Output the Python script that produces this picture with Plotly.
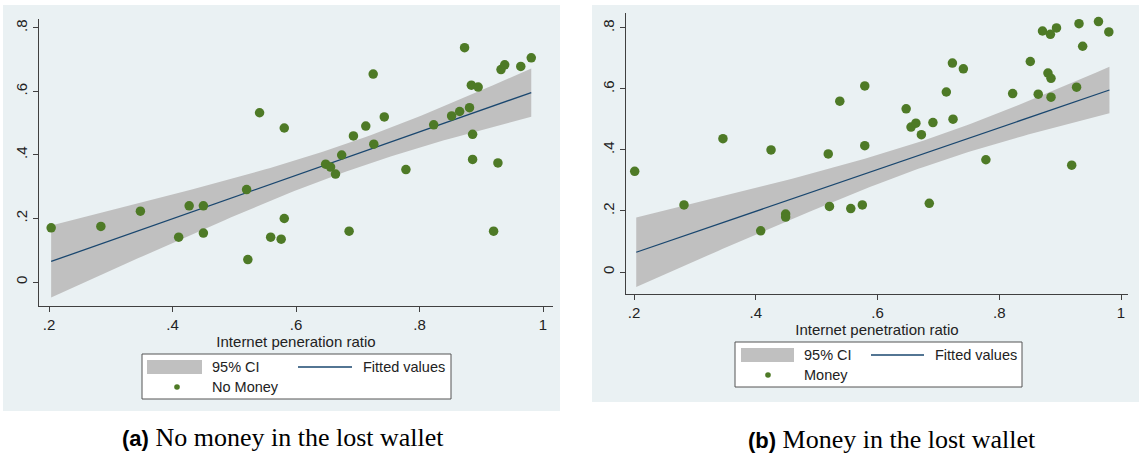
import numpy as np
import plotly.graph_objects as go

# ---------------- data ----------------
ratio_nomoney = [0.2035, 0.284, 0.348, 0.410, 0.427, 0.450, 0.450, 0.520, 0.522, 0.541,
                 0.559, 0.576, 0.581, 0.581, 0.648, 0.656, 0.664, 0.674, 0.686, 0.693,
                 0.713, 0.725, 0.726, 0.743, 0.778, 0.823, 0.852, 0.865, 0.873, 0.881,
                 0.884, 0.895, 0.886, 0.886, 0.920, 0.927, 0.932, 0.938, 0.964, 0.981]
rate_nomoney = [0.1705, 0.175, 0.223, 0.141, 0.240, 0.240, 0.154, 0.291, 0.0705, 0.533,
                0.141, 0.135, 0.485, 0.200, 0.371, 0.362, 0.340, 0.400, 0.160, 0.460,
                0.491, 0.655, 0.434, 0.520, 0.354, 0.495, 0.523, 0.537, 0.738, 0.549,
                0.620, 0.614, 0.465, 0.386, 0.160, 0.375, 0.669, 0.684, 0.679, 0.706]

ratio_money = [0.201, 0.282, 0.346, 0.408, 0.425, 0.449, 0.449, 0.519, 0.521, 0.538,
               0.556, 0.575, 0.579, 0.579, 0.647, 0.655, 0.663, 0.672, 0.685, 0.691,
               0.713, 0.723, 0.724, 0.741, 0.778, 0.822, 0.851, 0.864, 0.871, 0.880,
               0.884, 0.885, 0.885, 0.894, 0.919, 0.927, 0.931, 0.937, 0.963, 0.980]
rate_money = [0.330, 0.220, 0.437, 0.135, 0.400, 0.190, 0.180, 0.387, 0.215, 0.560,
              0.208, 0.220, 0.610, 0.414, 0.535, 0.475, 0.488, 0.450, 0.225, 0.490,
              0.590, 0.685, 0.501, 0.666, 0.368, 0.585, 0.690, 0.583, 0.790, 0.652,
              0.779, 0.635, 0.573, 0.800, 0.350, 0.606, 0.814, 0.740, 0.821, 0.787]

x_tick_vals = [0.2, 0.4, 0.6, 0.8, 1.0]
x_tick_text = [".2", ".4", ".6", ".8", "1"]
y_tick_vals = [0, 0.2, 0.4, 0.6, 0.8]
y_tick_text = ["0", ".2", ".4", ".6", ".8"]

# ---------------- linear fit with 95% CI (both panels show the same fit) ----------------
xa = np.array(ratio_nomoney)
ya = np.array(rate_nomoney)
n = len(xa)
b1, b0 = np.polyfit(xa, ya, 1)
resid = ya - (b0 + b1 * xa)
s = np.sqrt(np.sum(resid ** 2) / (n - 2))
sxx = np.sum((xa - xa.mean()) ** 2)
tcrit = 2.024
grid = np.linspace(xa.min(), xa.max(), 100)
fit = b0 + b1 * grid
half = tcrit * s * np.sqrt(1.0 / n + (grid - xa.mean()) ** 2 / sxx)
upper = fit + half
lower = fit - half

W, H = 1139, 453
def PX(p):
    return p / W
def PY(p):
    return 1 - p / H

BG = "#eaf1f3"
CI_COL = "#c0c0c0"
DOT = "#4e7a26"
LINE = "#1a476f"
FONT = "Liberation Sans"

fig = go.Figure()

panels = [
    dict(xs=ratio_nomoney, ys=rate_nomoney, name="No Money", xa="x", ya="y"),
    dict(xs=ratio_money, ys=rate_money, name="Money", xa="x2", ya="y2"),
]
for p in panels:
    fig.add_trace(go.Scatter(
        x=np.concatenate([grid, grid[::-1]]), y=np.concatenate([upper, lower[::-1]]),
        fill="toself", fillcolor=CI_COL, line=dict(width=0), mode="lines",
        hoverinfo="skip", showlegend=False, xaxis=p["xa"], yaxis=p["ya"]))
    fig.add_trace(go.Scatter(
        x=grid, y=fit, mode="lines", line=dict(color=LINE, width=1.3),
        showlegend=False, xaxis=p["xa"], yaxis=p["ya"]))
    fig.add_trace(go.Scatter(
        x=p["xs"], y=p["ys"], mode="markers", name=p["name"],
        marker=dict(color=DOT, size=9.5, line=dict(width=0)),
        showlegend=False, xaxis=p["xa"], yaxis=p["ya"]))

axis_common = dict(showline=True, linecolor="#404040", linewidth=1, ticks="outside",
                   ticklen=5, tickcolor="#404040", tickfont=dict(family=FONT, size=15, color="#222"),
                   zeroline=False)
title_font = dict(family=FONT, size=15, color="#222")

fig.update_layout(
    width=W, height=H, margin=dict(l=0, r=0, t=0, b=0),
    paper_bgcolor="white", plot_bgcolor="white", showlegend=False,
    xaxis=dict(domain=[PX(39), PX(553)], range=[0.1838, 1.0162], anchor="y",
               tickvals=x_tick_vals, ticktext=x_tick_text, showgrid=False,
               title=dict(text="Internet peneration ratio", font=title_font, standoff=3),
               **axis_common),
    yaxis=dict(domain=[PY(306), PY(19)], range=[-0.0756, 0.8283], anchor="x",
               tickvals=y_tick_vals, ticktext=y_tick_text, tickangle=-90,
               showgrid=True, gridcolor=BG, gridwidth=1, **axis_common),
    xaxis2=dict(domain=[PX(626), PX(1128)], range=[0.1867, 1.0115], anchor="y2",
                tickvals=x_tick_vals, ticktext=x_tick_text, showgrid=False,
                title=dict(text="Internet penetration ratio", font=title_font, standoff=1),
                **axis_common),
    yaxis2=dict(domain=[PY(294), PY(13)], range=[-0.0721, 0.849], anchor="x2",
                tickvals=y_tick_vals, ticktext=y_tick_text, tickangle=-90,
                showgrid=True, gridcolor=BG, gridwidth=1, **axis_common),
)

shapes = []
# outer panel backgrounds
shapes.append(dict(type="rect", xref="paper", yref="paper", layer="below",
                   x0=PX(3), x1=PX(560), y0=PY(411), y1=PY(5), fillcolor=BG, line=dict(width=0)))
shapes.append(dict(type="rect", xref="paper", yref="paper", layer="below",
                   x0=PX(592), x1=PX(1139), y0=PY(402), y1=PY(5), fillcolor=BG, line=dict(width=0)))

annotations = []
legends = [
    dict(box=(142, 451, 354, 399), rect=(147, 202, 360, 374), ci_txt=210, row1=367,
         line=(298, 352), fit_txt=361, dot=177, row2=387, label="No Money"),
    dict(box=(735, 1022, 342, 387), rect=(741, 794, 348, 362), ci_txt=802, row1=355,
         line=(871, 924), fit_txt=933, dot=768, row2=375, label="Money"),
]
for L in legends:
    x0, x1, y0, y1 = L["box"]
    shapes.append(dict(type="rect", xref="paper", yref="paper", x0=PX(x0), x1=PX(x1),
                       y0=PY(y1), y1=PY(y0), fillcolor="white", line=dict(color="#555", width=1)))
    r0, r1, r2, r3 = L["rect"]
    shapes.append(dict(type="rect", xref="paper", yref="paper", x0=PX(r0), x1=PX(r1),
                       y0=PY(r3), y1=PY(r2), fillcolor=CI_COL, line=dict(width=0)))
    l0, l1 = L["line"]
    shapes.append(dict(type="line", xref="paper", yref="paper", x0=PX(l0), x1=PX(l1),
                       y0=PY(L["row1"]), y1=PY(L["row1"]), line=dict(color=LINE, width=1.5)))
    d = L["dot"]; r = L["row2"]
    shapes.append(dict(type="circle", xref="paper", yref="paper", x0=PX(d - 2.8), x1=PX(d + 2.8),
                       y0=PY(r + 2.8), y1=PY(r - 2.8), fillcolor=DOT, line=dict(width=0)))
    for txt, tx, ty in [("95% CI", L["ci_txt"], L["row1"]), ("Fitted values", L["fit_txt"], L["row1"]),
                        (L["label"], L["ci_txt"], L["row2"])]:
        annotations.append(dict(text=txt, xref="paper", yref="paper", x=PX(tx), y=PY(ty),
                                xanchor="left", yanchor="middle", showarrow=False,
                                font=dict(family=FONT, size=14.5, color="#222")))

annotations.append(dict(
    text="<b><span style='font-family:Liberation Sans;font-size:22px'>(a)</span></b> No money in the lost wallet",
    xref="paper", yref="paper", x=PX(283), y=PY(437), xanchor="center", yanchor="middle",
    showarrow=False, font=dict(family="Liberation Serif", size=26, color="black")))
annotations.append(dict(
    text="<b><span style='font-family:Liberation Sans;font-size:22px'>(b)</span></b> Money in the lost wallet",
    xref="paper", yref="paper", x=PX(892), y=PY(439), xanchor="center", yanchor="middle",
    showarrow=False, font=dict(family="Liberation Serif", size=26, color="black")))

fig.update_layout(shapes=shapes, annotations=annotations)
fig.write_html("out.html", config={"displayModeBar": False},
               post_script="document.body.style.margin='0';document.body.style.overflow='hidden';")
